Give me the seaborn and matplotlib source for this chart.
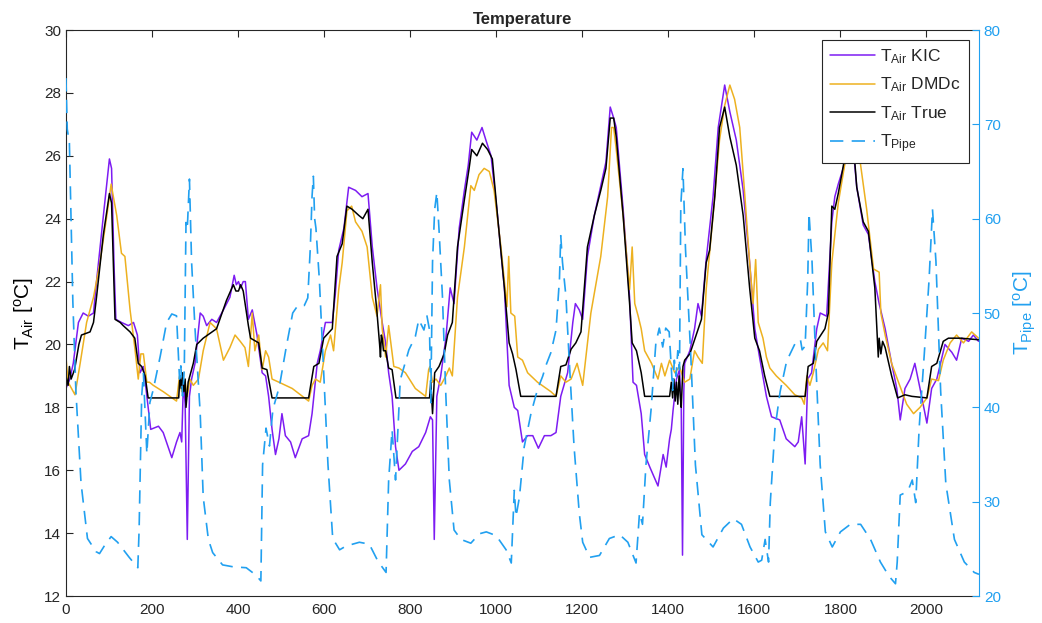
import matplotlib
matplotlib.use("Agg")
import matplotlib.pyplot as plt
import pandas as pd
import seaborn as sns

# T_Air KIC prediction (sample index, degC)
kic_x = [0, 9, 17, 29, 40, 52, 64, 71, 87, 101, 106, 112, 116, 129, 145, 157, 166, 172, 180, 188, 197, 215, 226, 246, 257, 265, 269, 273, 277, 282, 287, 292, 300, 312, 319, 327, 339, 350, 366, 381, 391, 396, 401, 406, 412, 417, 424, 433, 444, 456, 464, 471, 479, 487, 495, 502, 510, 522, 533, 549, 564, 572, 584, 591, 603, 619, 626, 634, 646, 657, 673, 688, 702, 712, 723, 735, 743, 750, 758, 766, 774, 789, 805, 820, 836, 847, 852, 856, 862, 871, 883, 893, 902, 914, 926, 935, 943, 955, 967, 976, 988, 1003, 1019, 1030, 1042, 1050, 1061, 1073, 1085, 1098, 1112, 1127, 1139, 1150, 1166, 1178, 1184, 1193, 1201, 1212, 1228, 1243, 1255, 1265, 1273, 1279, 1295, 1310, 1318, 1326, 1337, 1345, 1357, 1376, 1388, 1395, 1403, 1407, 1411, 1419, 1426, 1430, 1433, 1436, 1438, 1450, 1461, 1469, 1477, 1488, 1504, 1516, 1531, 1543, 1558, 1574, 1589, 1601, 1612, 1628, 1640, 1659, 1674, 1694, 1702, 1710, 1718, 1724, 1733, 1745, 1753, 1768, 1780, 1787, 1795, 1811, 1822, 1830, 1838, 1853, 1865, 1880, 1890, 1904, 1919, 1931, 1939, 1950, 1962, 1973, 1985, 2001, 2012, 2024, 2043, 2059, 2070, 2082, 2098, 2109, 2121]
kic_y = [18.6, 18.9, 19.4, 20.7, 21.0, 20.9, 21.0, 22.0, 24.1, 25.9, 25.6, 22.4, 20.8, 20.7, 20.6, 20.7, 20.3, 19.1, 19.3, 18.35, 17.3, 17.4, 17.2, 16.4, 16.9, 17.2, 16.9, 18.8, 18.1, 13.8, 18.35, 18.9, 19.4, 21.0, 20.9, 20.6, 20.8, 20.7, 21.1, 21.5, 22.2, 21.9, 22.0, 21.8, 22.0, 22.0, 20.8, 21.1, 20.3, 19.1, 19.0, 18.35, 17.3, 16.5, 17.0, 17.8, 17.1, 16.9, 16.4, 17.0, 17.1, 17.8, 19.4, 19.8, 20.7, 20.7, 21.6, 23.0, 23.7, 25.0, 24.9, 24.7, 24.8, 23.1, 21.8, 20.7, 20.05, 19.1, 18.35, 16.75, 16.0, 16.2, 16.6, 16.75, 17.2, 17.7, 17.6, 13.8, 18.35, 19.0, 20.2, 21.8, 21.3, 23.7, 24.9, 25.7, 26.75, 26.5, 26.9, 26.5, 26.0, 24.1, 21.8, 18.7, 18.0, 17.9, 16.9, 17.1, 17.1, 16.7, 17.1, 17.1, 17.2, 18.35, 19.1, 20.7, 21.3, 21.1, 20.8, 22.8, 24.1, 25.05, 25.8, 27.55, 27.2, 26.9, 24.3, 21.5, 18.8, 18.7, 17.8, 16.5, 16.1, 15.5, 16.5, 16.1, 17.0, 17.3, 17.9, 18.9, 19.2, 18.0, 13.3, 18.5, 19.4, 19.8, 20.5, 21.3, 20.9, 22.7, 24.7, 26.9, 28.25, 27.4, 26.5, 24.9, 22.6, 20.5, 19.6, 18.35, 17.7, 17.6, 17.0, 16.75, 16.9, 17.7, 16.2, 18.9, 19.1, 20.5, 21.0, 20.9, 23.9, 24.7, 25.1, 25.8, 27.0, 26.2, 25.0, 23.8, 23.5, 22.0, 21.3, 20.5, 19.4, 18.6, 17.6, 18.6, 18.9, 19.4, 18.6, 17.5, 18.6, 18.9, 20.0, 19.75, 19.5, 20.2, 20.1, 20.3, 20.1]

# T_Air DMDc prediction
dmd_x = [0, 5, 13, 21, 33, 48, 64, 79, 95, 105, 118, 129, 137, 149, 160, 168, 174, 180, 188, 194, 203, 226, 257, 264, 269, 277, 282, 288, 296, 308, 319, 335, 350, 366, 381, 393, 405, 416, 424, 433, 439, 448, 456, 464, 471, 479, 495, 526, 564, 572, 580, 591, 603, 615, 622, 634, 642, 653, 664, 673, 688, 700, 712, 723, 731, 735, 743, 750, 762, 774, 789, 812, 836, 843, 846, 852, 860, 871, 883, 891, 898, 910, 926, 941, 949, 960, 972, 984, 995, 1011, 1025, 1029, 1034, 1043, 1050, 1061, 1073, 1096, 1127, 1139, 1150, 1162, 1174, 1188, 1201, 1220, 1243, 1259, 1268, 1273, 1279, 1295, 1310, 1316, 1322, 1330, 1337, 1345, 1361, 1376, 1384, 1392, 1403, 1415, 1426, 1438, 1450, 1461, 1469, 1479, 1488, 1504, 1519, 1531, 1543, 1554, 1566, 1578, 1589, 1597, 1603, 1609, 1620, 1628, 1636, 1651, 1674, 1694, 1710, 1716, 1722, 1729, 1737, 1749, 1760, 1770, 1780, 1795, 1811, 1830, 1846, 1861, 1877, 1890, 1894, 1904, 1919, 1935, 1954, 1970, 1985, 2001, 2012, 2028, 2039, 2055, 2070, 2086, 2105, 2121]
dmd_y = [19.6, 18.8, 18.6, 18.4, 19.4, 20.7, 21.5, 22.6, 24.1, 25.1, 24.1, 22.9, 22.8, 21.1, 19.9, 18.9, 19.7, 19.7, 18.8, 18.8, 18.7, 18.5, 18.2, 19.0, 18.5, 18.8, 18.35, 18.9, 18.7, 18.9, 19.8, 20.7, 20.5, 19.5, 19.9, 20.3, 20.1, 19.9, 19.3, 21.0, 19.8, 20.3, 19.2, 19.8, 19.6, 18.9, 18.8, 18.6, 18.2, 18.7, 18.9, 18.8, 19.8, 20.3, 19.8, 21.75, 22.6, 24.25, 24.4, 23.9, 23.6, 23.1, 21.5, 20.9, 21.9, 20.5, 19.6, 20.6, 19.3, 19.25, 19.1, 18.6, 18.35, 19.2, 19.3, 18.8, 18.9, 18.7, 19.0, 19.25, 19.0, 21.5, 23.1, 25.05, 24.9, 25.4, 25.6, 25.5, 24.9, 23.1, 21.2, 22.8, 21.0, 20.9, 19.6, 19.5, 19.1, 18.8, 18.5, 18.35, 19.0, 18.8, 18.9, 19.4, 18.7, 21.0, 22.8, 24.7, 26.9, 26.9, 26.2, 24.1, 21.75, 23.1, 21.3, 20.9, 20.5, 19.8, 19.4, 18.9, 19.4, 19.0, 19.5, 19.1, 19.3, 18.8, 18.9, 19.8, 19.6, 19.4, 21.75, 24.1, 26.5, 27.6, 28.25, 27.8, 26.9, 24.7, 22.6, 21.3, 22.7, 20.7, 20.2, 19.6, 19.25, 19.0, 18.7, 18.4, 18.3, 18.1, 19.0, 18.7, 19.1, 19.85, 20.05, 19.8, 22.6, 24.5, 25.8, 26.6, 25.8, 24.3, 22.4, 22.3, 21.0, 20.3, 19.4, 18.8, 18.1, 17.8, 18.0, 18.3, 18.9, 18.85, 19.5, 20.05, 20.3, 20.05, 20.4, 20.2]

# T_Air measured
true_x = [0, 5, 8, 12, 20, 25, 30, 36, 56, 64, 71, 87, 101, 106, 110, 114, 126, 133, 149, 160, 168, 176, 184, 191, 262, 265, 268, 271, 274, 277, 279, 284, 296, 304, 319, 350, 373, 389, 395, 401, 406, 412, 424, 429, 448, 456, 467, 479, 564, 576, 588, 599, 619, 630, 642, 653, 665, 681, 690, 702, 712, 723, 729, 731, 733, 735, 738, 743, 750, 758, 767, 845, 848, 852, 857, 867, 879, 887, 898, 910, 926, 937, 943, 955, 968, 980, 991, 1003, 1019, 1030, 1038, 1046, 1057, 1139, 1150, 1162, 1174, 1185, 1197, 1212, 1228, 1243, 1255, 1265, 1273, 1279, 1295, 1310, 1316, 1326, 1337, 1345, 1403, 1407, 1410, 1413, 1416, 1419, 1422, 1425, 1428, 1430, 1434, 1438, 1450, 1461, 1477, 1488, 1496, 1508, 1519, 1531, 1543, 1558, 1574, 1589, 1601, 1612, 1624, 1636, 1718, 1725, 1737, 1745, 1764, 1772, 1780, 1787, 1795, 1811, 1822, 1830, 1838, 1853, 1865, 1880, 1888, 1890, 1894, 1898, 1904, 1919, 1933, 1950, 1966, 2001, 2012, 2024, 2039, 2051, 2080, 2121]
true_y = [19.0, 18.7, 19.3, 18.9, 19.2, 19.6, 20.0, 20.3, 20.4, 20.7, 21.5, 23.5, 24.8, 24.5, 22.6, 20.8, 20.7, 20.6, 20.4, 20.2, 19.4, 19.3, 19.0, 18.3, 18.3, 19.0, 18.6, 19.1, 18.5, 18.9, 18.0, 18.8, 19.4, 20.0, 20.2, 20.5, 21.4, 21.9, 21.7, 21.7, 21.9, 21.7, 20.6, 20.2, 20.05, 19.25, 19.2, 18.3, 18.3, 19.3, 19.4, 20.2, 20.5, 22.8, 23.2, 24.4, 24.3, 24.1, 24.0, 24.3, 22.6, 21.0, 20.0, 19.6, 20.3, 20.2, 19.8, 19.8, 19.25, 19.2, 18.3, 18.3, 18.8, 17.8, 19.1, 19.3, 19.7, 20.3, 20.7, 23.1, 24.6, 25.6, 26.2, 26.0, 26.4, 26.2, 25.9, 24.1, 21.8, 20.05, 19.7, 19.2, 18.35, 18.35, 19.3, 19.35, 19.85, 20.05, 20.4, 23.1, 24.1, 24.9, 25.6, 27.2, 27.2, 26.6, 24.1, 21.3, 20.05, 19.8, 19.1, 18.35, 18.35, 18.8, 18.3, 18.9, 18.2, 18.8, 18.1, 19.0, 18.3, 18.0, 19.3, 19.5, 19.7, 20.15, 20.8, 22.6, 23.0, 24.7, 26.9, 27.55, 26.6, 25.7, 24.1, 21.8, 20.2, 19.8, 19.0, 18.35, 18.35, 19.3, 19.4, 20.1, 20.5, 21.0, 24.4, 24.3, 24.8, 26.0, 26.6, 26.4, 25.0, 23.9, 23.6, 21.8, 19.6, 20.2, 19.7, 20.1, 19.9, 19.0, 18.3, 18.4, 18.35, 18.3, 19.3, 19.4, 20.1, 20.2, 20.2, 20.15]

# T_Pipe (right axis)
pipe_x = [0, 3, 8, 16, 23, 35, 50, 70, 78, 89, 105, 120, 147, 167, 170, 176, 180, 184, 188, 195, 203, 219, 234, 246, 257, 264, 267, 271, 275, 279, 282, 287, 292, 300, 312, 319, 331, 341, 364, 388, 419, 442, 453, 457, 465, 473, 481, 496, 512, 527, 539, 554, 562, 568, 572, 575, 578, 581, 589, 597, 609, 620, 636, 651, 682, 705, 725, 744, 750, 758, 766, 777, 797, 812, 820, 832, 839, 845, 848, 852, 857, 862, 867, 875, 883, 891, 902, 918, 941, 961, 977, 1000, 1023, 1035, 1042, 1046, 1054, 1065, 1081, 1096, 1108, 1116, 1127, 1139, 1147, 1150, 1154, 1162, 1170, 1181, 1193, 1201, 1217, 1240, 1263, 1287, 1306, 1325, 1333, 1340, 1348, 1360, 1371, 1379, 1387, 1394, 1402, 1410, 1414, 1418, 1422, 1426, 1429, 1434, 1440, 1452, 1463, 1478, 1494, 1504, 1528, 1551, 1570, 1590, 1609, 1617, 1625, 1633, 1637, 1648, 1660, 1675, 1695, 1707, 1711, 1718, 1724, 1727, 1734, 1742, 1753, 1765, 1781, 1800, 1823, 1847, 1870, 1893, 1913, 1928, 1932, 1939, 1948, 1960, 1967, 1975, 1983, 1995, 2006, 2014, 2022, 2033, 2045, 2065, 2088, 2111, 2122]
pipe_y = [74.9, 69.5, 68.0, 51.2, 41.8, 32.0, 26.1, 24.7, 24.5, 25.3, 26.3, 25.7, 24.1, 23.0, 27.0, 41.2, 43.6, 39.4, 35.1, 40.5, 41.9, 45.4, 49.0, 49.9, 49.7, 43.0, 44.4, 41.2, 44.0, 59.6, 58.9, 64.2, 55.4, 48.3, 39.4, 30.5, 26.0, 24.6, 23.3, 23.1, 23.0, 22.2, 21.6, 33.9, 37.8, 35.9, 39.8, 42.2, 46.4, 50.0, 50.8, 50.8, 51.6, 57.0, 62.4, 64.5, 60.0, 59.0, 53.5, 45.7, 33.9, 26.1, 24.9, 25.3, 25.7, 25.5, 23.7, 22.5, 32.3, 37.6, 32.3, 42.9, 46.1, 47.5, 49.3, 48.2, 49.7, 48.2, 40.5, 55.4, 61.0, 62.8, 58.9, 51.8, 41.2, 32.3, 27.0, 26.0, 25.6, 26.6, 26.8, 26.4, 24.9, 23.5, 31.2, 28.4, 30.5, 35.8, 39.4, 41.9, 43.3, 44.5, 45.8, 48.2, 53.6, 58.2, 55.4, 51.8, 44.7, 35.8, 28.8, 25.7, 24.1, 24.3, 26.1, 26.5, 25.7, 23.5, 28.8, 27.6, 33.9, 39.8, 46.8, 48.4, 46.4, 48.4, 48.0, 41.8, 45.0, 43.3, 46.0, 44.0, 61.4, 65.3, 56.7, 45.7, 33.9, 26.5, 25.7, 25.2, 27.2, 28.2, 27.6, 25.2, 23.6, 23.8, 26.0, 23.6, 29.9, 37.8, 41.7, 44.9, 46.8, 47.2, 46.1, 46.5, 53.5, 60.6, 55.5, 45.7, 33.9, 26.8, 25.2, 26.8, 27.6, 27.6, 26.0, 23.6, 22.1, 21.3, 23.6, 30.7, 30.9, 31.5, 32.3, 29.9, 37.8, 45.7, 53.5, 61.0, 55.5, 41.7, 31.9, 26.0, 23.6, 22.5, 22.3]

kic = pd.DataFrame({'k': kic_x, 'T': kic_y})
dmd = pd.DataFrame({'k': dmd_x, 'T': dmd_y})
true = pd.DataFrame({'k': true_x, 'T': true_y})
pipe = pd.DataFrame({'k': pipe_x, 'T': pipe_y})

sns.set_style("white")
plt.rcParams['font.family'] = ['Liberation Sans', 'DejaVu Sans']
plt.rcParams['mathtext.fontset'] = 'custom'
plt.rcParams['mathtext.rm'] = 'Liberation Sans'
plt.rcParams['mathtext.it'] = 'Liberation Sans:italic'

c_kic = '#7D1CF2'
c_dmd = '#EDB120'
c_true = '#000000'
c_pipe = '#21A0F0'
c_ax = '#262626'

fig = plt.figure(figsize=(10.42, 6.23), dpi=100)
ax = fig.add_axes([0.0633, 0.0433, 0.8762, 0.9085])
ax2 = ax.twinx()

sns.lineplot(data=kic, x='k', y='T', ax=ax, color=c_kic, linewidth=1.1, sort=False, estimator=None,
             label=r'$\mathrm{T_{Air}}$ KIC')
sns.lineplot(data=dmd, x='k', y='T', ax=ax, color=c_dmd, linewidth=1.1, sort=False, estimator=None,
             label=r'$\mathrm{T_{Air}}$ DMDc')
sns.lineplot(data=true, x='k', y='T', ax=ax, color=c_true, linewidth=1.1, sort=False, estimator=None,
             label=r'$\mathrm{T_{Air}}$ True')
sns.lineplot(data=pipe, x='k', y='T', ax=ax2, color=c_pipe, linewidth=1.2, sort=False, estimator=None,
             linestyle='--', label=r'$\mathrm{T_{Pipe}}$')
ax2.lines[0].set_dashes([8, 5])

ax.set_xlim(0, 2122)
ax.set_ylim(12, 30)
ax2.set_ylim(20, 80)
ax.set_xticks(range(0, 2001, 200))
ax.set_yticks(range(12, 31, 2))
ax2.set_yticks(range(20, 81, 10))

ax.set_xlabel('')
ax.set_ylabel(r'$\mathrm{T_{Air}}$ [$\mathrm{^oC}$]', fontsize=15, color='k', labelpad=6)
ax2.set_ylabel(r'$\mathrm{T_{Pipe}}$ [$\mathrm{^oC}$]', fontsize=15, color=c_pipe, rotation=90, labelpad=8)
ax.set_title('Temperature', fontsize=12, fontweight='bold', pad=4)

for s in ['left', 'bottom', 'top']:
    ax.spines[s].set_color(c_ax)
    ax.spines[s].set_linewidth(0.8)
ax.spines['right'].set_visible(False)
ax2.spines['right'].set_color(c_pipe)
ax2.spines['right'].set_linewidth(0.8)
for s in ['left', 'bottom', 'top']:
    ax2.spines[s].set_visible(False)

ax.tick_params(axis='x', direction='in', length=5, width=0.8, color=c_ax, labelsize=11, top=True, pad=5)
ax.tick_params(axis='y', direction='in', length=5, width=0.8, color=c_ax, labelsize=11, right=False)
ax2.tick_params(axis='y', direction='in', length=5, width=0.8, color=c_pipe, labelcolor=c_pipe, labelsize=11)

ax.get_legend().remove()
h1, l1 = ax.get_legend_handles_labels()
h2, l2 = ax2.get_legend_handles_labels()
leg = ax2.legend(h1 + h2, l1 + l2, loc='upper right', bbox_to_anchor=(0.989, 0.983), fontsize=12.5,
                 handlelength=2.6, labelspacing=0.55, borderpad=0.45, handletextpad=0.3,
                 borderaxespad=0, fancybox=False, framealpha=1, edgecolor=c_ax)
leg.get_frame().set_linewidth(0.8)

fig.savefig('out.png', dpi=100)
